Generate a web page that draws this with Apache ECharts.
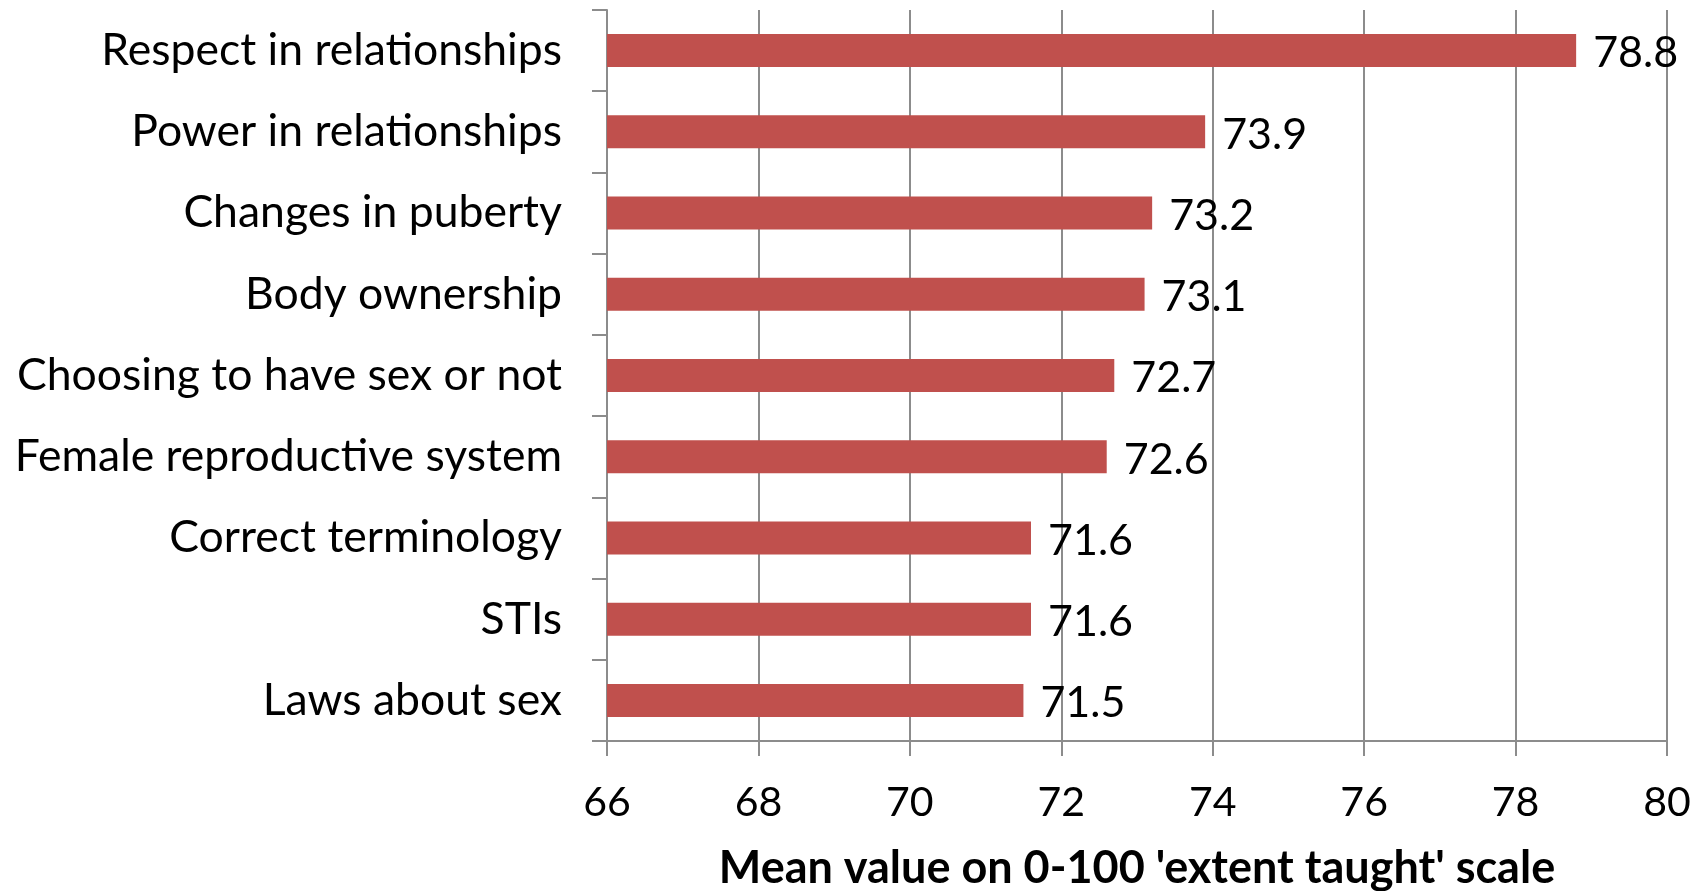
<!DOCTYPE html>
<html>
<head>
<meta charset="utf-8">
<script src="https://cdn.jsdelivr.net/npm/echarts@6/dist/echarts.min.js"></script>
<style>
  html, body { margin: 0; padding: 0; background: #fff; }
  #chart { width: 1707px; height: 891px; }
</style>
</head>
<body>
<div id="chart"></div>
<script>
// Topics, listed top to bottom
const topics = [
  'Respect in relationships',
  'Power in relationships',
  'Changes in puberty',
  'Body ownership',
  'Choosing to have sex or not',
  'Female reproductive system',
  'Correct terminology',
  'STIs',
  'Laws about sex'
];
// Mean value on the 0-100 'extent taught' scale
const meanValues = [78.8, 73.9, 73.2, 73.1, 72.7, 72.6, 71.6, 71.6, 71.5];
// Value axis range and step
const axisMin = 66;
const axisMax = 80;
const axisStep = 2;
const axisTitle = "Mean value on 0-100 'extent taught' scale";

const FONT = 'Lato, "Open Sans", sans-serif';
const GRID_GRAY = '#8c8c8c';

const chart = echarts.init(document.getElementById('chart'), null, { renderer: 'canvas' });
chart.setOption({
  animation: false,
  backgroundColor: '#ffffff',
  grid: {
    left: 607, right: 40, top: 10, bottom: 150,
    containLabel: false,
    outerBoundsMode: 'none'
  },
  xAxis: {
    type: 'value',
    min: axisMin,
    max: axisMax,
    interval: axisStep,
    name: axisTitle,
    nameLocation: 'middle',
    nameGap: 105,
    nameMoveOverlap: false,
    nameTextStyle: { fontFamily: FONT, fontSize: 45, fontWeight: 'bold', color: '#000' },
    axisLine: { show: true, lineStyle: { color: GRID_GRAY, width: 2 } },
    axisTick: { show: true, length: 15, lineStyle: { color: GRID_GRAY, width: 2 } },
    axisLabel: { fontFamily: FONT, fontSize: 41, color: '#000', margin: 41 },
    splitLine: { show: true, lineStyle: { color: GRID_GRAY, width: 2 } }
  },
  yAxis: {
    type: 'category',
    data: topics,
    inverse: true,
    axisLine: { show: true, lineStyle: { color: GRID_GRAY, width: 2 } },
    axisTick: { show: true, length: 15, lineStyle: { color: GRID_GRAY, width: 2 } },
    axisLabel: { fontFamily: FONT, fontSize: 44.5, color: '#000', margin: 45 },
    splitLine: { show: false }
  },
  series: [{
    type: 'bar',
    data: meanValues,
    barWidth: 33,
    itemStyle: { color: '#C0504D' },
    label: {
      show: true,
      position: 'right',
      distance: 17,
      offset: [0, 3],
      fontFamily: FONT,
      fontSize: 43,
      color: '#000',
      formatter: p => p.value.toFixed(1)
    }
  }]
});
</script>
</body>
</html>
